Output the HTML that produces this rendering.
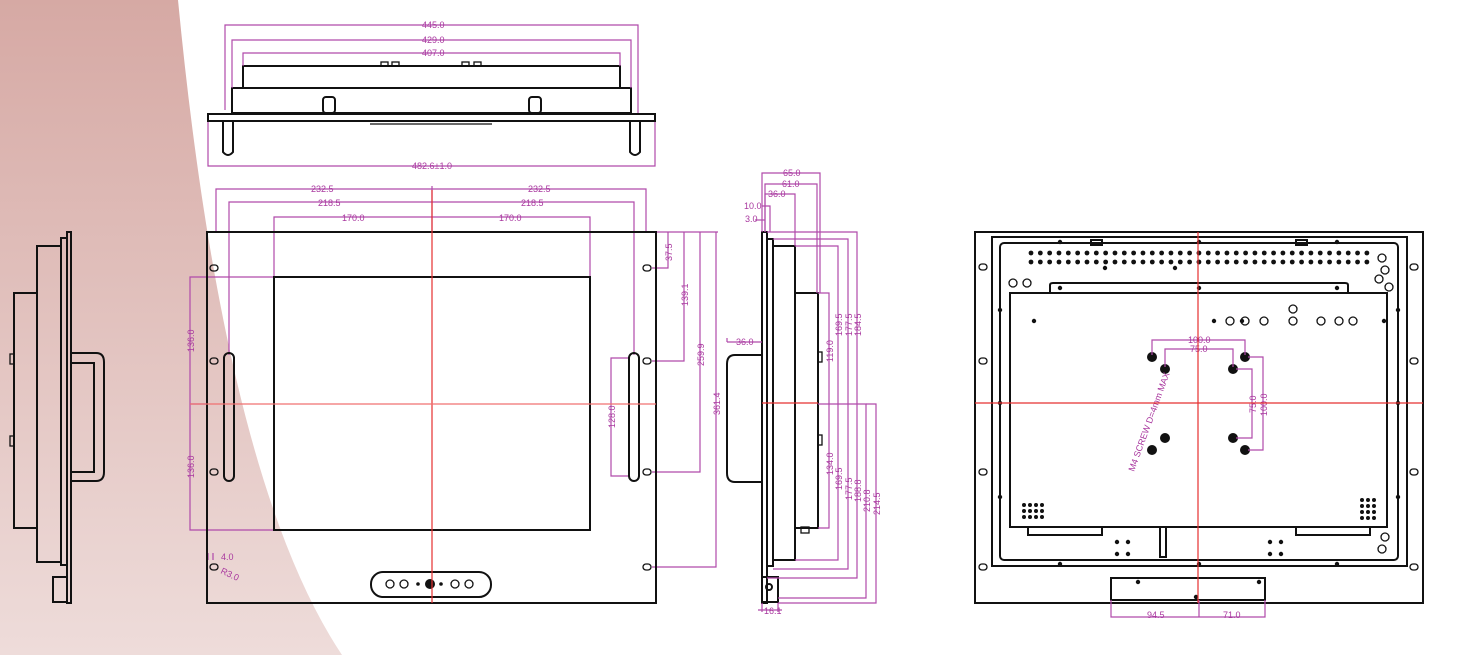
<!DOCTYPE html>
<html><head><meta charset="utf-8"><style>
html,body{margin:0;padding:0;background:#fff;}
svg{display:block;}
text{font-family:"Liberation Sans",sans-serif;font-size:9px;fill:#a9389f;}
.k{fill:none;stroke:#111;stroke-width:2;}
.k1{fill:none;stroke:#111;stroke-width:1.3;}
.m{fill:none;stroke:#b04aaa;stroke-width:1.2;}
.r{stroke:#e53030;stroke-width:1.2;}
</style></head><body>
<svg id="s" width="1478" height="655" viewBox="0 0 1478 655" xmlns="http://www.w3.org/2000/svg">
<defs><linearGradient id="g" x1="0" y1="0" x2="0" y2="1"><stop offset="0" stop-color="#d6a9a4"/><stop offset="1" stop-color="#eedcda"/></linearGradient></defs>
<path d="M0 0 L178 0 Q224 478 342 655 L0 655 Z" fill="url(#g)"/>

<!-- LEFT SIDE VIEW -->
<g class="k">
<rect x="67" y="232" width="4" height="371"/>
<rect x="37" y="246" width="24" height="316"/>
<rect x="61" y="238" width="6" height="327"/>
<rect x="14" y="293" width="23" height="235"/>
<path d="M71 353 H96 Q104 353 104 362 V472 Q104 481 96 481 H71"/>
<path d="M71 363 H94 V472 H71"/>
<rect x="53" y="577" width="14" height="25"/>
</g>
<g class="k1"><rect x="10" y="354" width="4" height="10"/><rect x="10" y="436" width="4" height="10"/></g>

<!-- TOP VIEW -->
<g class="k">
<rect x="243" y="66" width="377" height="22"/>
<rect x="232" y="88" width="399" height="25"/>
<rect x="208" y="114" width="447" height="7"/>
<path d="M223 121 V152 Q228 158 233 152 V121"/>
<path d="M630 121 V152 Q635 158 640 152 V121"/>
<rect x="323" y="97" width="12" height="16" rx="3"/>
<rect x="529" y="97" width="12" height="16" rx="3"/>
</g>
<g class="k1"><rect x="381" y="62" width="7" height="4"/><rect x="392" y="62" width="7" height="4"/><rect x="462" y="62" width="7" height="4"/><rect x="474" y="62" width="7" height="4"/><line x1="370" y1="124" x2="492" y2="124"/></g>
<g class="m">
<path d="M225 110 V25 H638 V113"/><path d="M232 88 V40 H631 V88"/><path d="M243 66 V53 H620 V66"/>
<path d="M208 122 V166 H655 V122"/>
</g>
<text x="422" y="28">445.0</text><text x="422" y="43">429.0</text><text x="422" y="56">407.0</text><text x="412" y="169">482.6±1.0</text>

<!-- FRONT VIEW -->
<g class="m">
<path d="M216 232 V189 H646 V232"/><path d="M229 355 V202 H634 V355"/><path d="M274 277 V217 H590 V277"/>
<line x1="432" y1="186" x2="432" y2="232"/>
<path d="M274 277 H190 V530 H274"/><line x1="190" y1="404" x2="207" y2="404"/>
<path d="M656 232 H718"/>
<path d="M668 232 V268 H652"/><path d="M684 232 V361 H652"/><path d="M700 232 V472 H652"/><path d="M716 232 V567 H652"/>
<path d="M630 358 H611 V476 H630"/>
<path d="M208 553 V560 M213 553 V560"/>
</g>
<text x="311" y="192">232.5</text><text x="528" y="192">232.5</text>
<text x="318" y="206">218.5</text><text x="521" y="206">218.5</text>
<text x="342" y="221">170.0</text><text x="499" y="221">170.0</text>
<text transform="translate(194 352) rotate(-90)">136.0</text>
<text transform="translate(194 478) rotate(-90)">136.0</text>
<text transform="translate(672 261) rotate(-90)">37.5</text>
<text transform="translate(688 306) rotate(-90)">139.1</text>
<text transform="translate(704 366) rotate(-90)">259.9</text>
<text transform="translate(720 415) rotate(-90)">361.4</text>
<text transform="translate(615 428) rotate(-90)">128.0</text>
<text x="221" y="560">4.0</text>
<text transform="translate(220 573) rotate(25)">R3.0</text>
<g class="k">
<rect x="207" y="232" width="449" height="371"/>
<rect x="274" y="277" width="316" height="253"/>
<rect x="224" y="353" width="10" height="128" rx="5"/>
<rect x="629" y="353" width="10" height="128" rx="5"/>
<rect x="371" y="572" width="120" height="25" rx="12"/>
</g>
<g class="k1" id="fh"></g>
<g class="k1"><circle cx="390" cy="584" r="4"/><circle cx="404" cy="584" r="4"/><circle cx="455" cy="584" r="4"/><circle cx="469" cy="584" r="4"/></g>
<g fill="#111"><circle cx="430" cy="584" r="5"/><circle cx="418" cy="584" r="1.8"/><circle cx="441" cy="584" r="1.8"/></g>
<line class="r" x1="432" y1="190" x2="432" y2="603"/>
<line class="r" x1="190" y1="404" x2="656" y2="404" style="stroke:#f07070"/>

<!-- MIDDLE SIDE VIEW -->
<g class="k">
<rect x="762" y="232" width="5" height="371"/>
<rect x="767" y="239" width="6" height="327"/>
<rect x="773" y="246" width="22" height="314"/>
<rect x="795" y="293" width="23" height="235"/>
<path d="M762 355 H735 Q727 355 727 364 V473 Q727 482 735 482 H762"/>
<rect x="762" y="577" width="16" height="25"/>
<circle cx="769" cy="587" r="3"/>
</g>
<g class="k1"><rect x="818" y="352" width="4" height="10"/><rect x="818" y="435" width="4" height="10"/><rect x="801" y="527" width="8" height="6"/></g>
<g class="m">
<path d="M762 232 V173 H820 V293"/><path d="M765 232 V184 H817 V293"/><path d="M765 232 V194 H795 V246"/>
<path d="M762 206 H770 V232"/><path d="M755 220 H765"/>
<path d="M818 293 H829 V528 H818"/>
<path d="M795 246 H838 V560 H795"/><path d="M773 239 H848 V569 H773"/><path d="M767 232 H857 V578 H767"/>
<path d="M818 404 H866 V598 H778"/><path d="M866 404 H876 V603 H778"/>
<path d="M727 342 V338 M727 342 H762"/>
<path d="M762 603 V612 M778 603 V612 M758 610 H782"/>
</g>
<text x="783" y="176">65.0</text><text x="782" y="187">61.0</text><text x="768" y="197">36.0</text>
<text x="744" y="209">10.0</text><text x="745" y="222">3.0</text>
<text x="736" y="345">36.0</text><text x="764" y="614">16.1</text>
<text transform="translate(833 362) rotate(-90)">119.0</text>
<text transform="translate(842 336) rotate(-90)">169.5</text>
<text transform="translate(852 336) rotate(-90)">177.5</text>
<text transform="translate(861 336) rotate(-90)">184.5</text>
<text transform="translate(833 475) rotate(-90)">134.0</text>
<text transform="translate(842 490) rotate(-90)">169.5</text>
<text transform="translate(852 500) rotate(-90)">177.5</text>
<text transform="translate(861 502) rotate(-90)">188.8</text>
<text transform="translate(870 512) rotate(-90)">210.8</text>
<text transform="translate(880 515) rotate(-90)">214.5</text>
<line class="r" x1="762" y1="403" x2="818" y2="403"/>

<!-- BACK VIEW -->
<g class="k">
<rect x="975" y="232" width="448" height="371"/>
<rect x="992" y="237" width="415" height="329"/>
<rect x="1000" y="243" width="398" height="317" rx="4"/>
<rect x="1010" y="293" width="377" height="234"/>
<path d="M1050 293 V285 Q1050 283 1053 283 H1345 Q1348 283 1348 285 V293"/>
<rect x="1111" y="578" width="154" height="22"/>
<path d="M1028 527 V535 H1102 V527"/><path d="M1296 527 V535 H1370 V527"/>
<rect x="1091" y="240" width="11" height="5"/><rect x="1296" y="240" width="11" height="5"/>
<rect x="1160" y="527" width="6" height="30"/>
</g>
<g class="k1" id="bh"></g>
<g fill="#111" id="bd"></g>
<g class="m">
<path d="M1152 355 V340 H1245 V355"/><path d="M1165 367 V349 H1233 V367"/>
<path d="M1236 369 H1252 V438 H1236"/><path d="M1248 357 H1263 V450 H1248"/>
<path d="M1111 600 V617 H1265 V600"/><line x1="1199" y1="600" x2="1199" y2="617"/>
</g>
<text x="1188" y="343">100.0</text><text x="1190" y="352">75.0</text>
<text transform="translate(1256 413) rotate(-90)">75.0</text>
<text transform="translate(1267 416) rotate(-90)">100.0</text>
<text x="1147" y="618">94.5</text><text x="1223" y="618">71.0</text>
<text transform="translate(1134 472) rotate(-70)">M4 SCREW D=4mm MAX</text>
<line class="r" x1="1198" y1="232" x2="1198" y2="603"/>
<line class="r" x1="975" y1="403" x2="1423" y2="403"/>
</svg>
<script>
var NS="http://www.w3.org/2000/svg";
function add(g,tag,a){var e=document.createElementNS(NS,tag);for(var k in a)e.setAttribute(k,a[k]);document.getElementById(g).appendChild(e);}
[[214,268],[214,361],[214,472],[214,567],[647,268],[647,361],[647,472],[647,567]].forEach(function(p){add("fh","rect",{x:p[0]-4,y:p[1]-3,width:8,height:6,rx:3});});
[[983,267],[983,361],[983,472],[983,567],[1414,267],[1414,361],[1414,472],[1414,567]].forEach(function(p){add("bh","rect",{x:p[0]-4,y:p[1]-3,width:8,height:6,rx:3});});
for(var x=1031;x<=1367;x+=9.33){add("bd","circle",{cx:x,cy:253,r:2.4});add("bd","circle",{cx:x,cy:262,r:2.4});}
[[1105,268],[1175,268],[1060,242],[1199,242],[1337,242],[1060,564],[1199,564],[1337,564],[1060,288],[1199,288],[1337,288],[1196,597],[1138,582],[1259,582],[1117,542],[1128,542],[1117,554],[1128,554],[1270,542],[1281,542],[1270,554],[1281,554],[1034,321],[1384,321],[1214,321],[1242,321],[1000,310],[1398,310],[1000,497],[1398,497],[1000,403],[1398,403]].forEach(function(p){add("bd","circle",{cx:p[0],cy:p[1],r:2.2});});
[[1152,357],[1165,369],[1233,369],[1245,357],[1165,438],[1152,450],[1233,438],[1245,450]].forEach(function(p){add("bd","circle",{cx:p[0],cy:p[1],r:5});});
[[1230,321],[1245,321],[1264,321],[1293,321],[1321,321],[1339,321],[1353,321],[1293,309],[1013,283],[1027,283],[1382,258],[1385,270],[1379,279],[1389,287],[1385,537],[1382,549]].forEach(function(p){add("bh","circle",{cx:p[0],cy:p[1],r:4});});
for(var i=0;i<4;i++)for(var j=0;j<3;j++){add("bd","circle",{cx:1024+i*6,cy:505+j*6,r:2});add("bd","circle",{cx:1362+j*6,cy:500+i*6,r:2});}
</script>
</body></html>
